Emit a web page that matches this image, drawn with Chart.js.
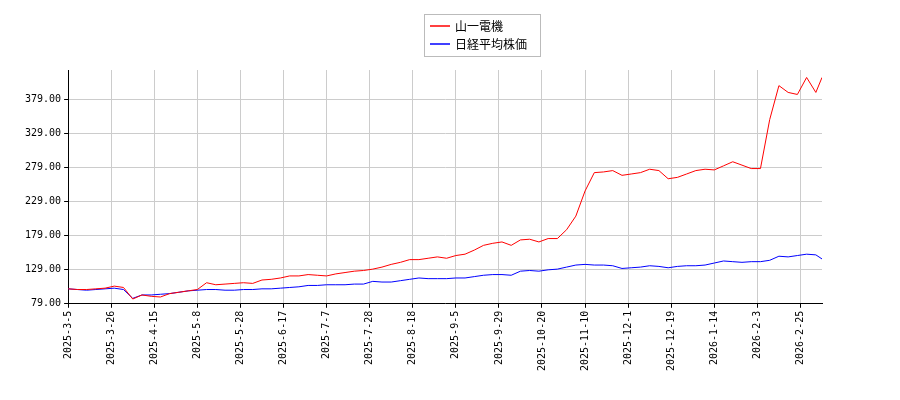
<!DOCTYPE html>
<html>
<head>
<meta charset="utf-8">
<script src="https://cdn.jsdelivr.net/npm/chart.js@4"></script>
<style>
html,body{margin:0;padding:0;background:#fff;}
#wrap{width:900px;height:400px;}
</style>
</head>
<body>
<div id="wrap"><canvas id="c"></canvas></div>
<script>
// tick labels, one every 14 trading days
var tickLabels = ["2025-3-5","2025-3-26","2025-4-15","2025-5-8","2025-5-28","2025-6-17","2025-7-7","2025-7-28","2025-8-18","2025-9-5","2025-9-29","2025-10-20","2025-11-10","2025-12-1","2025-12-19","2026-1-14","2026-2-3","2026-2-25"];
// trading-day index of each sample
var dayIdx = [0,3,6,9,12,15,18,21,24,27,30,33,36,39,42,45,48,51,54,57,60,63,66,69,72,75,78,81,84,87,90,93,96,99,102,105,108,111,114,117,120,123,126,129,132,135,138,141,144,147,150,153,156,159,162,165,168,171,174,177,180,183,186,189,192,195,198,201,204,207,210,213,216,219,222,225,228,231,234,237,240,243,245];
var yamaichi = [101,100,100,101,102,105,103,86,92,90,89,94,96,98,100,110,107,108,109,110,109,114,115,117,120,120,122,121,120,123,125,127,128,130,133,137,140,144,144,146,148,146,150,152,158,165,168,170,165,173,174,170,175,175,188,208,245,272,273,275,268,270,272,277,275,263,265,270,275,277,276,282,288,283,278,278,350,400,390,387,412,390,412];
var nikkei = [101,100,99,100,101,102,100,87,92,92,93,94,96,98,99,100,100,99,99,100,100,101,101,102,103,104,106,106,107,107,107,108,108,112,111,111,113,115,117,116,116,116,117,117,119,121,122,122,121,127,128,127,129,130,133,136,137,136,136,135,131,132,133,135,134,132,134,135,135,136,139,142,141,140,141,141,143,149,148,150,152,151,145];

function pts(v){ return dayIdx.map(function(d,k){ return {x:d, y:v[k]}; }); }

new Chart(document.getElementById("c"), {
  type: "line",
  data: {
    datasets: [
      {label:"山一電機", data:pts(yamaichi), borderColor:"#ff0000", borderWidth:1, pointRadius:0, tension:0},
      {label:"日経平均株価", data:pts(nikkei), borderColor:"#0000ff", borderWidth:1, pointRadius:0, tension:0}
    ]
  },
  options: {
    responsive:true, maintainAspectRatio:false, animation:false,
    layout:{padding:{left:22,right:78,top:70,bottom:26}},
    plugins:{ legend:{display:false}, tooltip:{enabled:false} },
    scales:{
      x:{type:"linear", min:0, max:245, offset:false,
        afterBuildTicks:function(ax){ ax.ticks = tickLabels.map(function(t,k){ return {value:k*14}; }); },
        ticks:{autoSkip:false, maxRotation:90, minRotation:90, font:{size:10, family:"DejaVu Sans Mono"}, color:"#000",
          callback:function(v){ return tickLabels[v/14]; }},
        grid:{color:"#cccccc", drawTicks:true, tickLength:4, tickColor:"#000"}, border:{color:"#000"}},
      y:{min:79, max:423,
        afterBuildTicks:function(ax){ var t=[]; for (var v=79; v<=379; v+=50) t.push({value:v}); ax.ticks=t; },
        ticks:{font:{size:10, family:"DejaVu Sans Mono"}, color:"#000", callback:function(v){ return v.toFixed(2); }},
        grid:{color:"#cccccc", tickLength:4, tickColor:"#000"}, border:{color:"#000"}}
    }
  },
  plugins:[{id:"legendBox", afterDraw:function(ch){
    var c = ch.ctx, x0 = 424, y0 = 14, w = 116, h = 42;
    c.save();
    c.fillStyle = "#fff"; c.fillRect(x0, y0, w, h);
    c.strokeStyle = "#bbb"; c.lineWidth = 1; c.strokeRect(x0+0.5, y0+0.5, w, h);
    c.font = "12px 'Noto Sans CJK JP'"; c.textBaseline = "middle";
    ch.data.datasets.forEach(function(ds, k){
      var y = y0 + 12 + k*18;
      c.strokeStyle = ds.borderColor; c.lineWidth = 1.5;
      c.beginPath(); c.moveTo(x0+6, y); c.lineTo(x0+26, y); c.stroke();
      c.fillStyle = "#000"; c.fillText(ds.label, x0+31, y);
    });
    c.restore();
  }}]
});
</script>
</body>
</html>
